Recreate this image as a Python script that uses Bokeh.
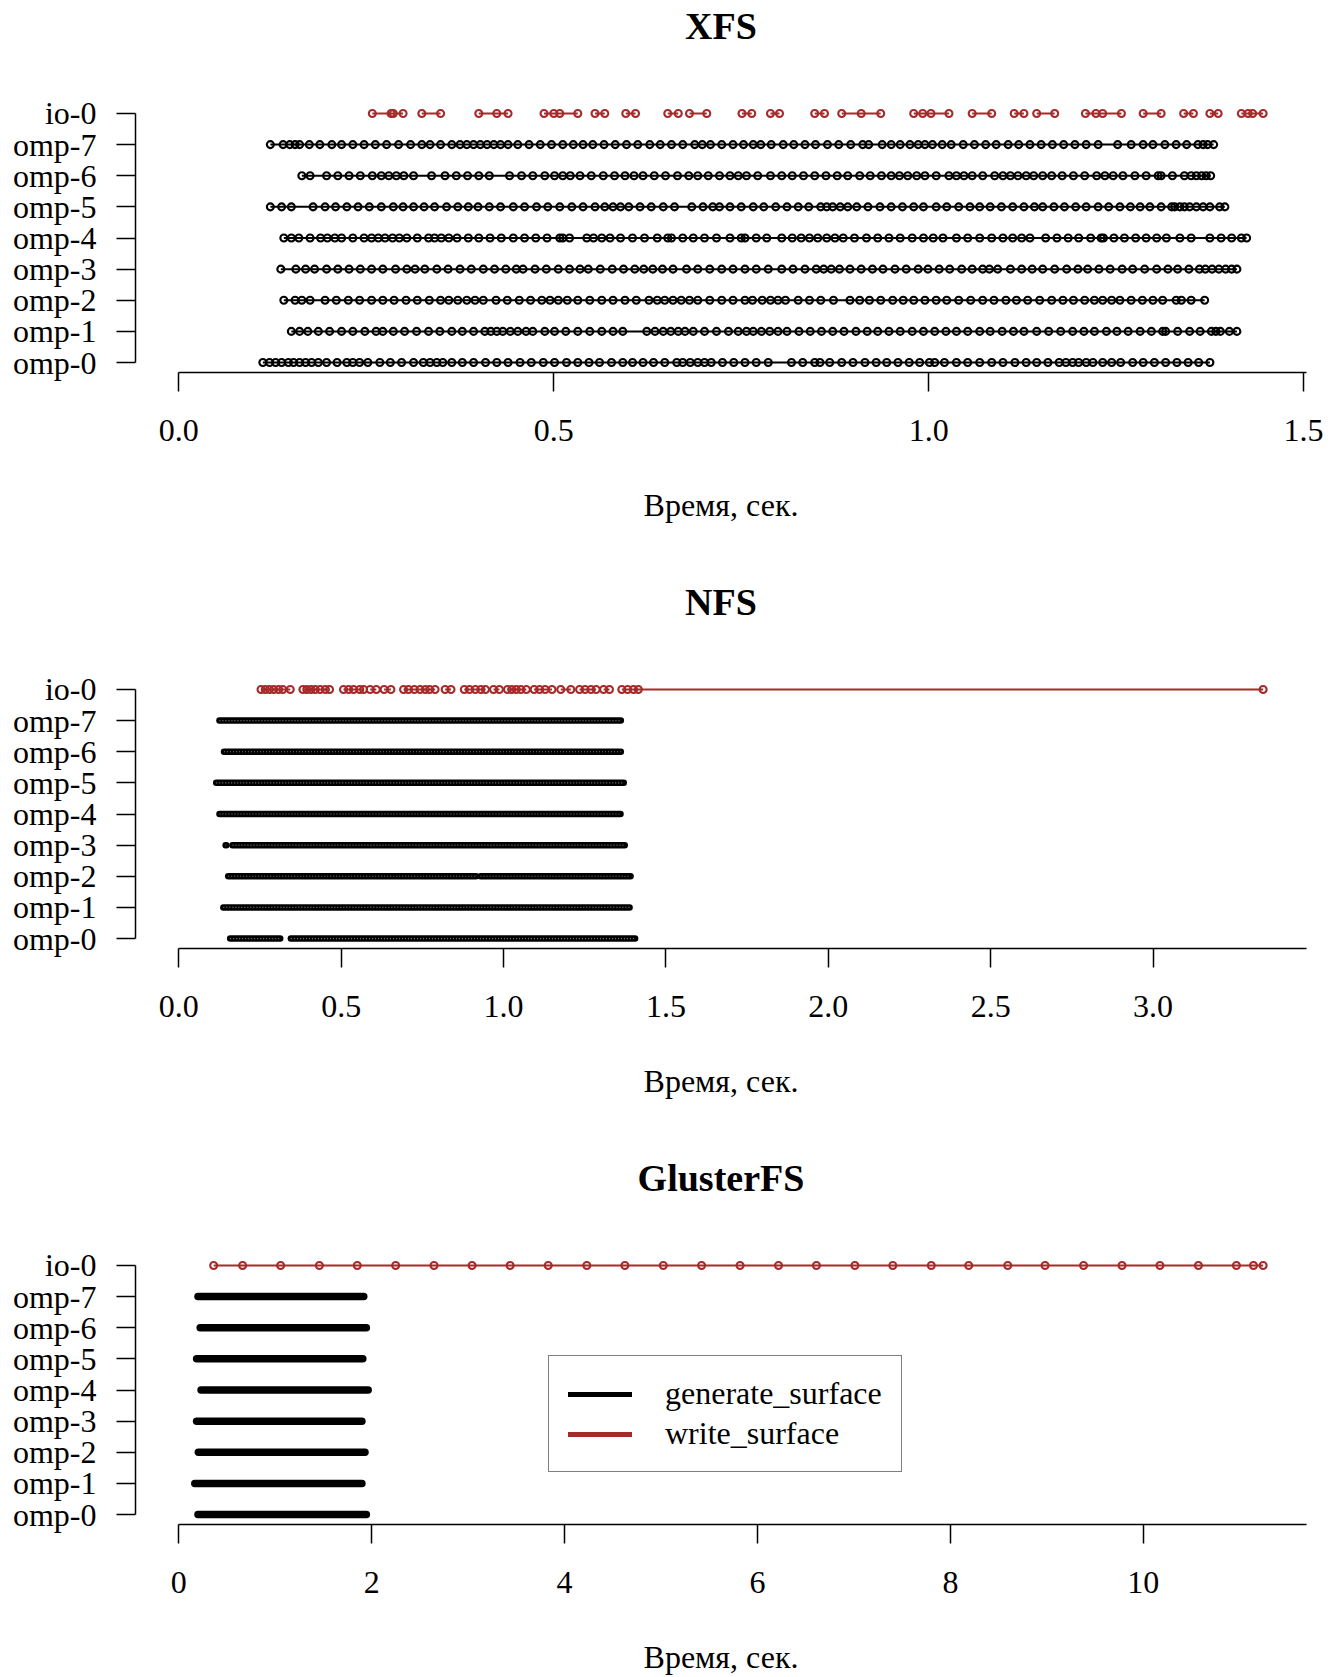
from bokeh.plotting import figure
from bokeh.layouts import column
from bokeh.models import Range1d, FixedTicker, Legend, LegendItem, NumeralTickFormatter, Title
from bokeh.embed import file_html
from bokeh.resources import INLINE

FONT = "Liberation Serif"
BLACK = "#000000"
RED = "#A52A2A"

ROW_LABELS = ["omp-0", "omp-1", "omp-2", "omp-3", "omp-4", "omp-5", "omp-6", "omp-7", "io-0"]
X_LABEL = "Время, сек."
TITLES = ["XFS", "NFS", "GlusterFS"]
LEGEND_LABELS = ["generate_surface", "write_surface"]

# ---------------- XFS: event boundaries (seconds) per thread ----------------
xfs_omp0 = [0.112, 0.121, 0.129, 0.137, 0.146, 0.153, 0.161, 0.169, 0.177, 0.186, 0.197, 0.211, 0.224, 0.232,
            0.241, 0.252, 0.268, 0.282, 0.297, 0.313, 0.326, 0.335, 0.344, 0.352, 0.364, 0.378, 0.393, 0.409,
            0.424, 0.439, 0.455, 0.470, 0.486, 0.501, 0.517, 0.532, 0.547, 0.561, 0.577, 0.592, 0.605, 0.619,
            0.633, 0.648, 0.664, 0.672, 0.682, 0.692, 0.701, 0.710, 0.725, 0.740, 0.755, 0.770, 0.786, 0.817,
            0.832, 0.848, 0.855, 0.868, 0.884, 0.899, 0.915, 0.930, 0.944, 0.959, 0.974, 0.988, 1.001, 1.008,
            1.021, 1.037, 1.052, 1.068, 1.084, 1.099, 1.115, 1.130, 1.144, 1.159, 1.174, 1.183, 1.192, 1.200,
            1.210, 1.219, 1.232, 1.244, 1.256, 1.272, 1.286, 1.301, 1.316, 1.331, 1.346, 1.360, 1.375]
xfs_omp1 = [0.150, 0.161, 0.172, 0.186, 0.201, 0.217, 0.232, 0.248, 0.263, 0.272, 0.286, 0.301, 0.317, 0.333,
            0.348, 0.364, 0.378, 0.393, 0.408, 0.416, 0.424, 0.432, 0.442, 0.452, 0.463, 0.472, 0.488, 0.501,
            0.516, 0.532, 0.548, 0.564, 0.579, 0.592, 0.624, 0.635, 0.646, 0.656, 0.666, 0.675, 0.686, 0.701,
            0.717, 0.733, 0.746, 0.757, 0.766, 0.777, 0.788, 0.799, 0.811, 0.827, 0.842, 0.857, 0.872, 0.887,
            0.903, 0.918, 0.932, 0.947, 0.962, 0.978, 0.993, 1.008, 1.023, 1.037, 1.052, 1.068, 1.082, 1.098,
            1.113, 1.127, 1.144, 1.160, 1.176, 1.192, 1.207, 1.221, 1.237, 1.251, 1.266, 1.282, 1.297, 1.312,
            1.316, 1.332, 1.348, 1.362, 1.377, 1.383, 1.389, 1.401, 1.411]
xfs_omp2 = [0.140, 0.155, 0.164, 0.175, 0.195, 0.210, 0.226, 0.241, 0.257, 0.272, 0.287, 0.303, 0.318, 0.334,
            0.349, 0.360, 0.372, 0.384, 0.395, 0.406, 0.423, 0.438, 0.454, 0.469, 0.484, 0.495, 0.506, 0.518,
            0.532, 0.548, 0.564, 0.579, 0.595, 0.610, 0.627, 0.638, 0.648, 0.659, 0.670, 0.681, 0.692, 0.708,
            0.724, 0.739, 0.755, 0.765, 0.778, 0.789, 0.799, 0.809, 0.826, 0.841, 0.856, 0.873, 0.895, 0.908,
            0.921, 0.936, 0.952, 0.966, 0.980, 0.995, 1.010, 1.024, 1.040, 1.056, 1.072, 1.087, 1.103, 1.117,
            1.132, 1.148, 1.164, 1.179, 1.193, 1.208, 1.221, 1.232, 1.244, 1.255, 1.270, 1.285, 1.299, 1.312,
            1.330, 1.337, 1.350, 1.368]
xfs_omp3 = [0.136, 0.156, 0.169, 0.181, 0.197, 0.212, 0.227, 0.242, 0.257, 0.272, 0.289, 0.304, 0.315, 0.328,
            0.344, 0.359, 0.375, 0.390, 0.406, 0.421, 0.436, 0.450, 0.459, 0.475, 0.490, 0.506, 0.521, 0.535,
            0.546, 0.562, 0.578, 0.593, 0.608, 0.620, 0.632, 0.645, 0.659, 0.677, 0.692, 0.708, 0.724, 0.739,
            0.755, 0.770, 0.786, 0.804, 0.819, 0.835, 0.850, 0.860, 0.870, 0.881, 0.895, 0.910, 0.925, 0.939,
            0.955, 0.970, 0.986, 0.999, 1.014, 1.028, 1.044, 1.058, 1.072, 1.081, 1.092, 1.109, 1.124, 1.138,
            1.152, 1.168, 1.184, 1.199, 1.212, 1.227, 1.242, 1.258, 1.272, 1.288, 1.304, 1.319, 1.332, 1.347,
            1.361, 1.369, 1.378, 1.387, 1.396, 1.404, 1.411]
xfs_omp4 = [0.140, 0.150, 0.160, 0.175, 0.189, 0.198, 0.208, 0.217, 0.232, 0.247, 0.257, 0.266, 0.275, 0.285,
            0.294, 0.304, 0.318, 0.333, 0.341, 0.350, 0.360, 0.371, 0.386, 0.400, 0.415, 0.430, 0.446, 0.461,
            0.476, 0.491, 0.508, 0.512, 0.521, 0.544, 0.553, 0.564, 0.575, 0.589, 0.605, 0.621, 0.638, 0.652,
            0.657, 0.672, 0.686, 0.701, 0.717, 0.735, 0.750, 0.755, 0.770, 0.784, 0.804, 0.818, 0.830, 0.841,
            0.852, 0.864, 0.875, 0.886, 0.901, 0.917, 0.932, 0.947, 0.962, 0.978, 0.993, 1.006, 1.019, 1.037,
            1.052, 1.068, 1.084, 1.099, 1.112, 1.124, 1.135, 1.156, 1.171, 1.186, 1.200, 1.216, 1.230, 1.233,
            1.247, 1.261, 1.276, 1.290, 1.304, 1.317, 1.335, 1.350, 1.375, 1.390, 1.404, 1.417, 1.424]
xfs_omp5 = [0.122, 0.137, 0.150, 0.179, 0.195, 0.209, 0.224, 0.239, 0.254, 0.270, 0.286, 0.299, 0.313, 0.327,
            0.341, 0.357, 0.372, 0.386, 0.399, 0.414, 0.429, 0.446, 0.461, 0.477, 0.492, 0.508, 0.524, 0.539,
            0.555, 0.568, 0.579, 0.589, 0.600, 0.615, 0.630, 0.646, 0.661, 0.684, 0.699, 0.712, 0.721, 0.735,
            0.750, 0.766, 0.780, 0.796, 0.811, 0.826, 0.840, 0.856, 0.864, 0.872, 0.882, 0.892, 0.904, 0.919,
            0.935, 0.950, 0.965, 0.980, 0.993, 1.010, 1.024, 1.040, 1.055, 1.068, 1.082, 1.097, 1.112, 1.127,
            1.141, 1.152, 1.167, 1.181, 1.196, 1.210, 1.226, 1.240, 1.255, 1.269, 1.282, 1.295, 1.310, 1.324,
            1.328, 1.335, 1.341, 1.348, 1.357, 1.366, 1.375, 1.388, 1.395]
xfs_omp6 = [0.164, 0.175, 0.197, 0.212, 0.227, 0.242, 0.258, 0.270, 0.280, 0.290, 0.300, 0.313, 0.337, 0.355,
            0.370, 0.385, 0.400, 0.414, 0.441, 0.457, 0.472, 0.488, 0.501, 0.512, 0.522, 0.535, 0.550, 0.566,
            0.581, 0.595, 0.607, 0.619, 0.634, 0.649, 0.665, 0.680, 0.692, 0.706, 0.721, 0.735, 0.746, 0.757,
            0.772, 0.789, 0.804, 0.818, 0.833, 0.848, 0.863, 0.878, 0.892, 0.908, 0.922, 0.937, 0.950, 0.961,
            0.972, 0.984, 0.995, 1.010, 1.027, 1.037, 1.047, 1.058, 1.072, 1.088, 1.099, 1.109, 1.119, 1.130,
            1.140, 1.152, 1.164, 1.178, 1.193, 1.208, 1.224, 1.235, 1.246, 1.259, 1.275, 1.290, 1.306, 1.310,
            1.325, 1.341, 1.350, 1.357, 1.364, 1.370, 1.376]
xfs_omp7 = [0.122, 0.139, 0.148, 0.155, 0.161, 0.174, 0.188, 0.204, 0.217, 0.232, 0.247, 0.262, 0.277, 0.293,
            0.309, 0.324, 0.335, 0.349, 0.364, 0.375, 0.384, 0.393, 0.402, 0.411, 0.420, 0.429, 0.439, 0.452,
            0.467, 0.482, 0.497, 0.512, 0.526, 0.539, 0.552, 0.567, 0.582, 0.597, 0.612, 0.628, 0.642, 0.657,
            0.672, 0.688, 0.698, 0.709, 0.724, 0.739, 0.753, 0.766, 0.776, 0.790, 0.806, 0.820, 0.835, 0.849,
            0.865, 0.880, 0.896, 0.912, 0.920, 0.938, 0.950, 0.962, 0.975, 0.986, 0.995, 1.005, 1.018, 1.030,
            1.046, 1.061, 1.076, 1.090, 1.106, 1.120, 1.135, 1.150, 1.165, 1.180, 1.195, 1.210, 1.226, 1.252,
            1.270, 1.286, 1.299, 1.315, 1.330, 1.344, 1.359, 1.366, 1.372, 1.380]
xfs_io0_runs = [[0.258, 0.283, 0.286, 0.299], [0.324, 0.349], [0.400, 0.424, 0.439],
                [0.487, 0.500, 0.508, 0.532], [0.555, 0.568], [0.596, 0.609], [0.652, 0.666],
                [0.681, 0.704], [0.751, 0.764], [0.789, 0.801], [0.848, 0.861], [0.884, 0.910, 0.936],
                [0.980, 0.992, 1.003, 1.027], [1.058, 1.084], [1.114, 1.127], [1.144, 1.168],
                [1.209, 1.223, 1.232, 1.257], [1.286, 1.310], [1.340, 1.353], [1.375, 1.386],
                [1.417, 1.426, 1.432, 1.446]]

# ---------------- NFS: busy spans of the compute threads + write events ----------------
nfs_span_row = ["omp-0", "omp-0", "omp-1", "omp-2", "omp-2", "omp-3", "omp-3", "omp-4", "omp-5", "omp-6", "omp-7"]
nfs_span_start = [0.158, 0.345, 0.137, 0.152, 0.929, 0.144, 0.165, 0.125, 0.115, 0.139, 0.125]
nfs_span_end = [0.312, 1.405, 1.388, 0.915, 1.391, 0.146, 1.373, 1.360, 1.370, 1.361, 1.361]
nfs_io0_runs = [[0.253, 0.266, 0.279, 0.292, 0.307, 0.320, 0.343],
                [0.382, 0.394, 0.407, 0.420, 0.435, 0.451, 0.464],
                [0.507, 0.523, 0.538, 0.557, 0.569], [0.589, 0.608], [0.632, 0.653],
                [0.692, 0.707, 0.725, 0.743, 0.759, 0.772, 0.789], [0.820, 0.838],
                [0.879, 0.895, 0.913, 0.930, 0.944], [0.969, 0.987],
                [1.012, 1.025, 1.039, 1.053, 1.070], [1.094, 1.111, 1.128, 1.149], [1.176, 1.207],
                [1.234, 1.251, 1.269, 1.285], [1.308, 1.326], [1.364, 1.382, 1.400, 1.415, 3.339]]

# ---------------- GlusterFS ----------------
gl_span_row = ["omp-0", "omp-1", "omp-2", "omp-3", "omp-4", "omp-5", "omp-6", "omp-7"]
gl_span_start = [0.198, 0.165, 0.202, 0.184, 0.230, 0.184, 0.221, 0.198]
gl_span_end = [1.944, 1.898, 1.930, 1.898, 1.963, 1.907, 1.944, 1.917]
gl_io0 = [0.361, 0.661, 1.055, 1.457, 1.850, 2.248, 2.646, 3.040, 3.435, 3.830, 4.230, 4.625, 5.023,
          5.420, 5.819, 6.218, 6.611, 7.010, 7.403, 7.802, 8.190, 8.595, 8.982, 9.381, 9.780, 10.173,
          10.572, 10.966, 11.143, 11.243]

X_TICKS = [[0.0, 0.5, 1.0, 1.5], [0.0, 0.5, 1.0, 1.5, 2.0, 2.5, 3.0], [0, 2, 4, 6, 8, 10]]
X_FORMATS = ["0.0", "0.0", "0"]
X_MAX = [1.446, 3.339, 11.243]

ROW_INDEX = {name: i for i, name in enumerate(ROW_LABELS)}


def panel(k, height, bottom):
    x_max = X_MAX[k]
    pad = 0.04 * x_max
    n = len(ROW_LABELS) - 1
    p = figure(width=1338, height=height, output_backend="svg", toolbar_location=None,
               x_range=Range1d(-pad, x_max + pad), y_range=Range1d(-0.04 * n, n + 0.04 * n),
               min_border_left=135, min_border_right=32, min_border_top=102, min_border_bottom=bottom)
    # empty spacer between the plotting region and the title (pushes the title upward)
    p.add_layout(Title(text=" ", text_font_size="10px", standoff=42), "above")
    p.title.text = TITLES[k]
    p.title.text_font = FONT
    p.title.text_font_size = "38px"
    p.title.text_font_style = "bold"
    p.title.text_color = BLACK
    p.title.align = "center"
    p.title.standoff = 4
    p.outline_line_color = None
    p.xgrid.visible = False
    p.ygrid.visible = False
    p.background_fill_color = "white"
    p.border_fill_color = "white"

    xa = p.xaxis[0]
    xa.ticker = FixedTicker(ticks=X_TICKS[k])
    xa.formatter = NumeralTickFormatter(format=X_FORMATS[k])
    xa.bounds = (0, x_max + pad)
    xa.axis_label = X_LABEL
    ya = p.yaxis[0]
    ya.ticker = FixedTicker(ticks=list(range(len(ROW_LABELS))))
    ya.major_label_overrides = {i: lab for i, lab in enumerate(ROW_LABELS)}
    ya.bounds = (0, n)
    for ax in (xa, ya):
        ax.axis_line_color = BLACK
        ax.axis_line_width = 1.5
        ax.major_tick_line_color = BLACK
        ax.major_tick_line_width = 1.5
        ax.major_tick_in = 0
        ax.major_tick_out = 19
        ax.minor_tick_line_color = None
        ax.major_label_text_font = FONT
        ax.major_label_text_font_size = "32px"
        ax.major_label_text_color = BLACK
    ya.major_label_standoff = 20
    xa.major_label_standoff = 28
    xa.axis_label_text_font = FONT
    xa.axis_label_text_font_size = "32px"
    xa.axis_label_text_font_style = "normal"
    xa.axis_label_text_color = BLACK
    xa.axis_label_standoff = 43
    return p


def chain(p, times, row, color):
    ys = [ROW_INDEX[row]] * len(times)
    p.line(times, ys, line_color=color, line_width=2)
    p.scatter(times, ys, marker="circle", size=7, fill_alpha=0, line_color=color, line_width=2.1)


def spans(p, rows, starts, ends, width, textured):
    ys = [ROW_INDEX[r] for r in rows]
    p.segment(x0=starts, y0=ys, x1=ends, y1=ys, line_color=BLACK, line_width=width, line_cap="round")
    if textured:
        p.segment(x0=starts, y0=ys, x1=ends, y1=ys, line_color="white", line_width=1.2,
                  line_dash="1 2", line_alpha=0.5)


# XFS
p1 = panel(0, 576, 204)
xfs_rows = [xfs_omp0, xfs_omp1, xfs_omp2, xfs_omp3, xfs_omp4, xfs_omp5, xfs_omp6, xfs_omp7]
for i, times in enumerate(xfs_rows):
    chain(p1, times, ROW_LABELS[i], BLACK)
for run in xfs_io0_runs:
    chain(p1, run, "io-0", RED)

# NFS
p2 = panel(1, 576, 204)
spans(p2, nfs_span_row, nfs_span_start, nfs_span_end, 6.5, True)
for run in nfs_io0_runs:
    chain(p2, run, "io-0", RED)

# GlusterFS
p3 = panel(2, 525, 153)
spans(p3, gl_span_row, gl_span_start, gl_span_end, 7.5, False)
chain(p3, gl_io0, "io-0", RED)

nan = float("nan")
r_gen = p3.line(x=[nan], y=[nan], line_color=BLACK, line_width=5, line_cap="round")
r_wr = p3.line(x=[nan], y=[nan], line_color=RED, line_width=5, line_cap="round")
legend = Legend(items=[LegendItem(label=LEGEND_LABELS[0], renderers=[r_gen]),
                       LegendItem(label=LEGEND_LABELS[1], renderers=[r_wr])],
                location=(413, 52), orientation="vertical")
legend.border_line_color = BLACK
legend.border_line_width = 1.5
legend.background_fill_color = "white"
legend.background_fill_alpha = 1.0
legend.padding = 19
legend.spacing = 3
legend.margin = 0
legend.glyph_width = 64
legend.glyph_height = 36
legend.label_height = 36
legend.label_standoff = 33
legend.label_text_font = FONT
legend.label_text_font_size = "32px"
legend.label_text_color = BLACK
p3.add_layout(legend)

layout = column(p1, p2, p3, spacing=0)
open("out.html", "w").write(file_html(layout, INLINE, title="XFS / NFS / GlusterFS"))
